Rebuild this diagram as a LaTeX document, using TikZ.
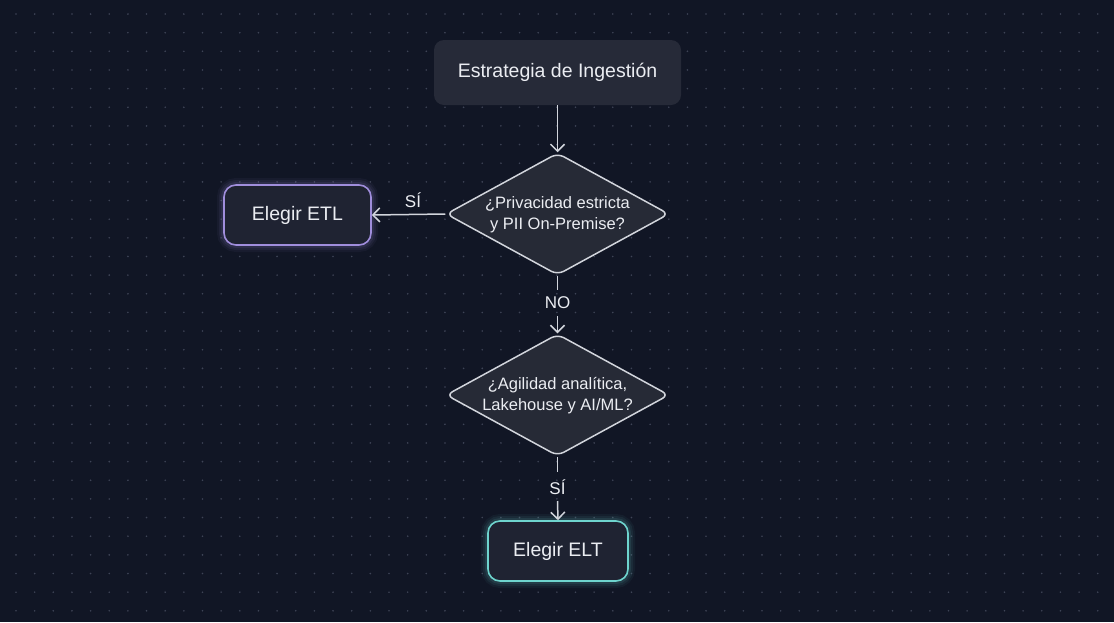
\documentclass[tikz,border=0pt]{standalone}
\usepackage{fontspec}
\setmainfont{Liberation Sans}
\usetikzlibrary{shapes.geometric,arrows.meta}
\definecolor{bg}{RGB}{17,22,37}
\definecolor{dotc}{RGB}{62,68,86}
\definecolor{boxfill}{RGB}{38,42,56}
\definecolor{dfill}{RGB}{38,42,54}
\definecolor{dline}{RGB}{210,213,220}
\definecolor{txt}{RGB}{235,237,242}
\definecolor{etlc}{RGB}{160,142,220}
\definecolor{eltc}{RGB}{110,212,206}
\definecolor{endfill}{RGB}{31,35,50}
\tikzset{
  x=1pt,y=-1pt,
  startbox/.style={draw=none,fill=boxfill,rounded corners=10pt,minimum width=247pt,minimum height=65pt,text=txt,font=\fontsize{19.5}{23}\selectfont,inner sep=0pt},
  decision/.style={diamond,draw=dline,line width=1.5pt,fill=dfill,rounded corners=7pt,minimum width=223pt,minimum height=122pt,inner sep=0pt},
  dtext/.style={text=txt,align=center,font=\fontsize{16.5}{21}\selectfont,inner sep=0pt},
  endbox/.style={rounded corners=12pt,line width=1.6pt,fill=endfill,minimum height=60pt,text=txt,font=\fontsize{19.5}{23}\selectfont,inner sep=0pt},
  conn/.style={draw=dline,line width=1.5pt,-{Straight Barb[length=7pt,width=14pt,line width=1.5pt]}},
  lab/.style={text=txt,font=\fontsize{17}{20}\selectfont,inner sep=1pt},
}
\begin{document}
\begin{tikzpicture}
\fill[bg] (0,0) rectangle (1114,622);
\useasboundingbox (0,0) rectangle (1114,622);
\foreach \i in {0,...,59} {
  \foreach \j in {0,...,33} {
    \fill[dotc] ({16+\i*18.65},{14+\j*18.65}) circle (0.9pt);
  }
}
% start
\node[startbox] (start) at (557.5,72.5) {\raisebox{-2pt}{Estrategia de Ingestión}};
% decisions
\node[decision] (d1) at (557.5,214) {};
\node[dtext] (t1) at ([yshift=-1pt]d1.center) {¿Privacidad estricta\\y PII On-Premise?};
\node[decision] (d2) at (557.5,395) {};
\node[dtext] (t2) at ([yshift=-1pt]d2.center) {¿Agilidad analítica,\\Lakehouse y AI/ML?};
% glows
\foreach \w/\o in {14/0.05,10/0.07,6/0.10} {
  \draw[etlc,line width=\w pt,opacity=\o,rounded corners=12pt] (224,185) rectangle (371,245);
  \draw[eltc,line width=\w pt,opacity=\o,rounded corners=12pt] (488,521) rectangle (628,581);
}
\node[endbox,draw=etlc,minimum width=147pt] (etl) at (297.5,215) {\raisebox{-1.5pt}{Elegir ETL}};
\node[endbox,draw=eltc,minimum width=140pt] (elt) at (558,551) {\raisebox{-1.5pt}{Elegir ELT}};
% connectors
\draw[conn] (start.south) -- (d1.north);
\draw[conn] (d1.west) -- (etl.east);
\node[lab] (si1) at (413,200) {SÍ};
\coordinate (m1) at (557.5,290);
\coordinate (m1b) at (557.5,316);
\draw[draw=dline,line width=1.5pt] (d1.south) -- (m1);
\node[lab] (no) at (557.5,303) {NO};
\draw[conn] (m1b) -- (d2.north);
\coordinate (m2) at (557.5,472);
\coordinate (m2b) at (557.5,501);
\draw[draw=dline,line width=1.5pt] (d2.south) -- (m2);
\node[lab] (si2) at (557.5,487) {SÍ};
\draw[conn] (m2b) -- (elt.north);
\end{tikzpicture}
\end{document}
